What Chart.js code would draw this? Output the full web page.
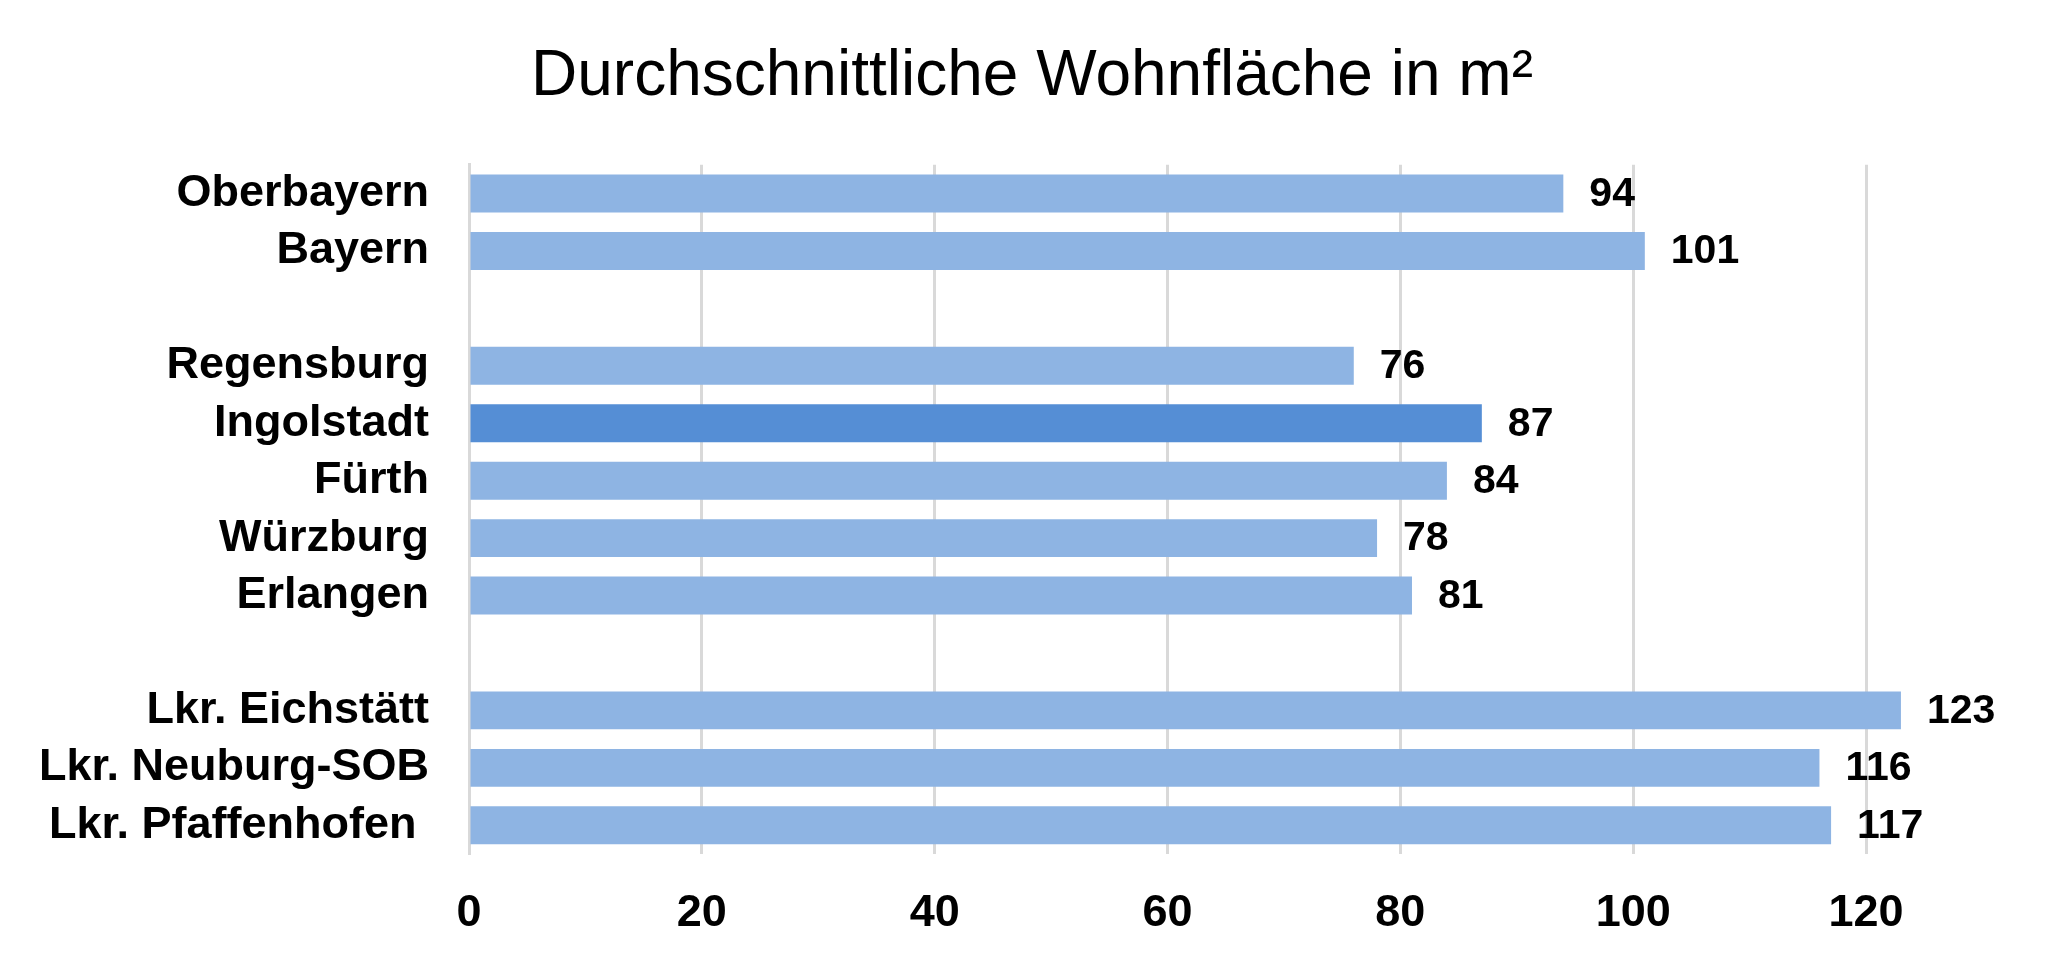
<!DOCTYPE html>
<html>
<head>
<meta charset="utf-8">
<script src="https://cdn.jsdelivr.net/npm/chart.js@4.4.1/dist/chart.umd.min.js"></script>
<style>
  html, body { margin: 0; padding: 0; background: #fff; }
  #wrap { width: 2069px; height: 962px; }
</style>
</head>
<body>
<div id="wrap"><canvas id="chart" width="2069" height="962"></canvas></div>
<script>
const regions = ["Oberbayern", "Bayern", "", "Regensburg", "Ingolstadt", "Fürth", "Würzburg", "Erlangen", "", "Lkr. Eichstätt", "Lkr. Neuburg-SOB", "Lkr. Pfaffenhofen "];
const wohnflaeche = [94, 101, null, 76, 87, 84, 78, 81, null, 123, 116, 117];
const xTicks = [0, 20, 40, 60, 80, 100, 120];
const highlight = "Ingolstadt";

const FONT = "'Liberation Sans', Arial, sans-serif";
const LIGHT = "#8EB4E3";
const DARK = "#558ED5";
const GRID = "#D9D9D9";

// draws the value next to each bar (no datalabels plugin available offline)
const valueLabels = {
  id: "valueLabels",
  afterDatasetsDraw(chart) {
    const ctx = chart.ctx;
    const meta = chart.getDatasetMeta(0);
    ctx.save();
    ctx.font = "bold 41px " + FONT;
    ctx.fillStyle = "#000";
    ctx.textAlign = "left";
    ctx.textBaseline = "middle";
    meta.data.forEach((bar, i) => {
      const v = chart.data.datasets[0].data[i];
      if (v === null) return;
      ctx.fillText(String(v), bar.x + 26, bar.y + 1);
    });
    ctx.restore();
  }
};

const ctx = document.getElementById("chart").getContext("2d");
new Chart(ctx, {
  type: "bar",
  data: {
    labels: regions,
    datasets: [
      {
        data: wohnflaeche,
        backgroundColor: regions.map((r) => (r === highlight ? DARK : LIGHT)),
        borderWidth: 0,
        categoryPercentage: 1,
        barPercentage: 0.66,
      },
    ],
  },
  options: {
    indexAxis: "y",
    responsive: false,
    devicePixelRatio: 1,
    animation: false,
    layout: {
      padding: { left: 35, right: 40, top: 0, bottom: -12 },
    },
    plugins: {
      legend: { display: false },
      tooltip: { enabled: false },
      title: {
        display: true,
        text: "Durchschnittliche Wohnfläche in m²",
        color: "#000",
        font: { family: FONT, size: 64, weight: "normal", lineHeight: 1.2 },
        padding: { top: 39, bottom: 49 },
      },
    },
    scales: {
      x: {
        min: 0,
        max: 134,
        afterBuildTicks: (scale) => {
          scale.ticks = xTicks.map((v) => ({ value: v }));
        },
        grid: {
          color: GRID,
          lineWidth: 3,
          drawTicks: false,
        },
        border: { display: false },
        ticks: {
          color: "#000",
          padding: 33,
          maxRotation: 0,
          font: { family: FONT, size: 45, weight: "bold" },
        },
      },
      y: {
        afterFit: (scale) => {
          scale.width = 434;
        },
        grid: { display: false, drawTicks: false },
        border: { display: true, color: GRID, width: 3 },
        ticks: {
          color: "#000",
          padding: 40,
          autoSkip: false,
          font: { family: FONT, size: 45, weight: "bold" },
        },
      },
    },
  },
  plugins: [valueLabels],
});
</script>
</body>
</html>
